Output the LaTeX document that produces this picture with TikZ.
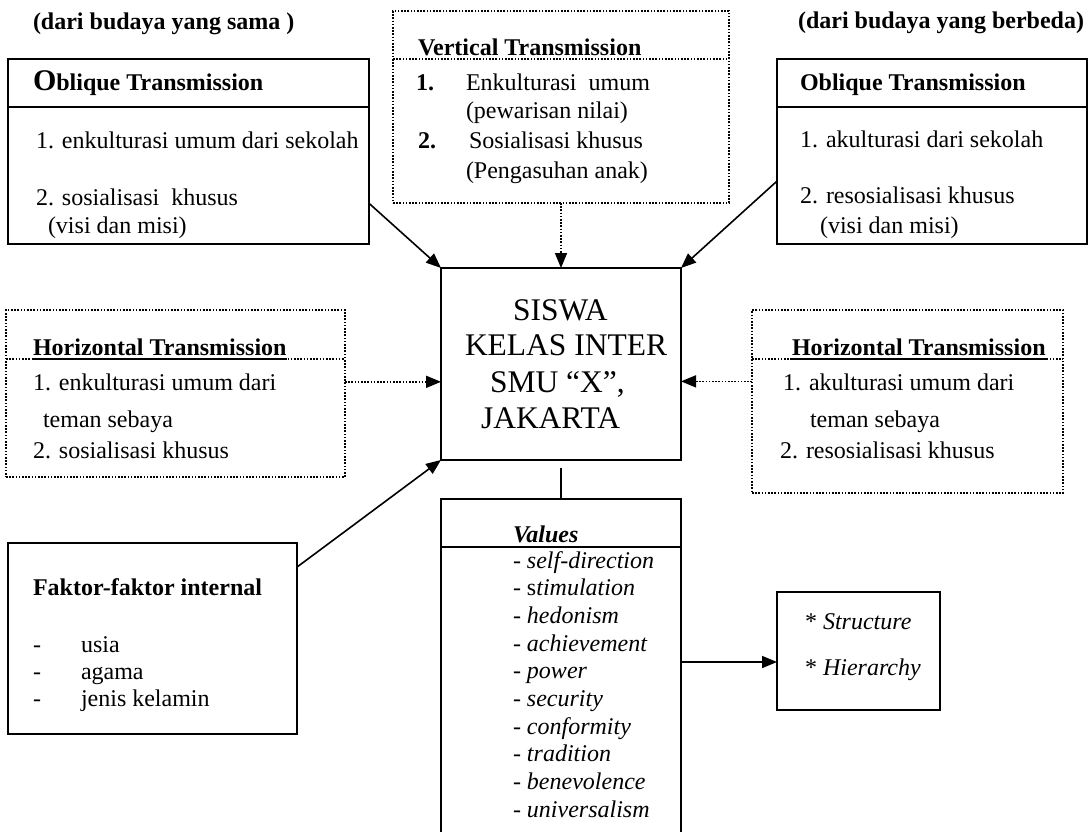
\documentclass[tikz,border=0pt]{standalone}
\usepackage{fontspec}
\setmainfont{Liberation Serif}
\usetikzlibrary{arrows.meta,calc}
\begin{document}
\begin{tikzpicture}[x=1pt,y=-1pt,
  every node/.style={inner sep=0pt, outer sep=0pt},
  box/.style={draw, line width=1.8pt, anchor=north west},
  dbox/.style={draw, line width=1.6pt, dash pattern=on 1.6pt off 1.6pt, anchor=north west},
  solidline/.style={line width=1.8pt},
  dotline/.style={line width=1.6pt, dash pattern=on 1.6pt off 1.6pt},
  txt/.style={anchor=base west, font=\fontsize{24}{28}\selectfont},
  hd/.style={anchor=base west, font=\fontsize{24}{28}\selectfont\bfseries},
  ctxt/.style={anchor=base west, font=\fontsize{31.5}{36}\selectfont},
  arr/.style={line width=1.6pt, -{Triangle[length=15pt,width=12pt]}},
  darr/.style={line width=1.6pt, dash pattern=on 1.6pt off 1.6pt, -{Triangle[length=15pt,width=12pt]}},
]
\clip (0,0) rectangle (1089,831);
\fill[white] (0,0) rectangle (1089,831);

% boxes
\node[box, minimum width=361, minimum height=185] (lob) at (8,59) {};
\node[dbox, minimum width=336, minimum height=192] (vt) at (393,11) {};
\node[box, minimum width=310, minimum height=185] (rob) at (777,59) {};
\node[dbox, minimum width=339, minimum height=167] (lh) at (6,310) {};
\node[dbox, minimum width=311, minimum height=183] (rh) at (752,310) {};
\node[box, minimum width=240, minimum height=192] (ctr) at (441,268) {};
\node[box, minimum width=289, minimum height=191] (fk) at (8,543) {};
\node[box, minimum width=240, minimum height=371] (vb) at (441,499) {};
\node[box, minimum width=163, minimum height=118] (sb) at (777,592) {};

% dividers
\draw[solidline] ($(lob.north west)+(0,48)$) -- ($(lob.north east)+(0,48)$);
\draw[solidline] ($(rob.north west)+(0,48)$) -- ($(rob.north east)+(0,48)$);
\draw[dotline] ($(vt.north west)+(0,48)$) -- ($(vt.north east)+(0,48)$);
\draw[dotline] ($(lh.north west)+(0,49)$) -- ($(lh.north east)+(0,49)$);
\draw[dotline] ($(rh.north west)+(0,49)$) -- ($(rh.north east)+(0,49)$);
\draw[solidline] ($(vb.north west)+(0,48)$) -- ($(vb.north east)+(0,48)$);

% top labels
\node[hd] (tsame) at (33,29) {(dari budaya yang sama )};
\node[hd] (tbeda) at (798,28) {(dari budaya yang berbeda)};

% left oblique
\node[hd] (lobT) at (33,90) {{\fontsize{30}{30}\selectfont O}blique Transmission};
\node[txt] (lob1) at (36,148) {1. enkulturasi umum dari sekolah};
\node[txt] (lob2) at (36,205) {2. sosialisasi~ khusus};
\node[txt] (lob3) at (48,233) {(visi dan misi)};

% right oblique
\node[hd] (robT) at (800,90) {Oblique Transmission};
\node[txt] (rob1) at (800,147) {1. akulturasi dari sekolah};
\node[txt] (rob2) at (800,203) {2. resosialisasi khusus};
\node[txt] (rob3) at (820,233) {(visi dan misi)};

% vertical
\node[hd] (vtT) at (418,55) {Vertical Transmission};
\node[hd] (vt1n) at (416,90) {1.};
\node[txt] (vt1) at (466,90) {Enkulturasi~ umum};
\node[txt] (vt1b) at (466,118) {(pewarisan nilai)};
\node[hd] (vt2n) at (418,148) {2.};
\node[txt] (vt2) at (469,148) {Sosialisasi khusus};
\node[txt] (vt2b) at (466,178) {(Pengasuhan anak)};

% left horizontal
\node[hd] (lhT) at (33,355) {Horizontal Transmission};
\draw[line width=1.4pt] ($(lhT.base west)+(0,4)$) -- ($(lhT.base east)+(0,4)$);
\node[txt] (lh1) at (33,390) {1. enkulturasi umum dari};
\node[txt] (lh2) at (43,427) {teman sebaya};
\node[txt] (lh3) at (33,458) {2. sosialisasi khusus};

% right horizontal
\node[hd] (rhT) at (792,355) {Horizontal Transmission};
\draw[line width=1.4pt] ($(rhT.base west)+(0,4)$) -- ($(rhT.base east)+(0,4)$);
\node[txt] (rh1) at (783,390) {1. akulturasi umum dari};
\node[txt] (rh2) at (810,427) {teman sebaya};
\node[txt] (rh3) at (780,458) {2. resosialisasi khusus};

% centre
\node[ctxt] (c1) at (513,320) {SISWA};
\node[ctxt] (c2) at (465,355) {KELAS INTER};
\node[ctxt] (c3) at (490,392) {SMU “X”,};
\node[ctxt] (c4) at (481,428) {JAKARTA};

% values
\node[anchor=base west, font=\fontsize{24}{28}\selectfont\bfseries\itshape] (vT) at (513,542) {Values};
\node[txt] (v1) at (513,568.0) {- \textit{self-direction}};
\node[txt] (v2) at (513,595.7) {- s\textit{timulation}};
\node[txt] (v3) at (513,623.4) {- \textit{hedonism}};
\node[txt] (v4) at (513,651.1) {- \textit{achievement}};
\node[txt] (v5) at (513,678.8) {- \textit{power}};
\node[txt] (v6) at (513,706.5) {- \textit{security}};
\node[txt] (v7) at (513,734.2) {- \textit{conformity}};
\node[txt] (v8) at (513,761.9) {- \textit{tradition}};
\node[txt] (v9) at (513,789.6) {- \textit{benevolence}};
\node[txt] (v10) at (513,817.3) {- \textit{universalism}};

% faktor
\node[hd] (fkT) at (33,595) {Faktor-faktor internal};
\node[txt] (fkd1) at (33,652) {-};
\node[txt] (fk1) at (81,652) {usia};
\node[txt] (fkd2) at (33,679) {-};
\node[txt] (fk2) at (81,679) {agama};
\node[txt] (fkd3) at (33,706) {-};
\node[txt] (fk3) at (81,706) {jenis kelamin};

% structure
\node[txt] (s1) at (805,629) {* \textit{Structure}};
\node[txt] (s2) at (805,675) {* \textit{Hierarchy}};

% connectors
\coordinate (lobA) at ($(lob.north east)!0.78!(lob.south east)$);
\draw[arr] (lobA) -- (ctr.north west);
\coordinate (robA) at ($(rob.north west)!0.66!(rob.south west)$);
\draw[arr] (robA) -- (ctr.north east);
\draw[darr] (vt.south) -- (ctr.north);
\coordinate (lhA) at ($(lh.north east)!0.43!(lh.south east)$);
\draw[darr] (lhA) -- (lhA -| ctr.west);
\coordinate (rhA) at ($(rh.north west)!0.39!(rh.south west)$);
\draw[darr] (rhA) -- (rhA -| ctr.east);
\coordinate (fkA) at ($(fk.north east)!0.126!(fk.south east)$);
\draw[arr] (fkA) -- (ctr.south west);
\coordinate (ctrB) at ($(ctr.south)+(0,8)$);
\draw[line width=1.6pt] (ctrB) -- (vb.north);
\coordinate (vbA) at ($(vb.north east)+(0,163)$);
\draw[arr] (vbA) -- (vbA -| sb.west);
\end{tikzpicture}
\end{document}
